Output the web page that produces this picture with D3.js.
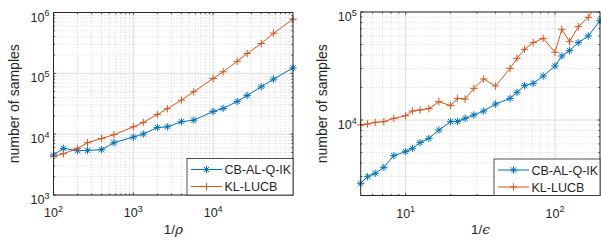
<!DOCTYPE html>
<html><head><meta charset="utf-8">
<script src="https://cdn.jsdelivr.net/npm/d3@7"></script>
<style>
body{margin:0;background:#fff}
text{font-family:"Liberation Sans",Arial,Helvetica,sans-serif;fill:#262626}
</style>
</head><body>
<svg id="c" width="601" height="243"></svg>
<script>
// ---------- data ----------
const seriesNames = ["CB-AL-Q-IK", "KL-LUCB"];
const seriesColors = ["#0072BD", "#D95319"];

// left panel: 1/rho
const rhoInv = [100, 133, 200, 267, 400, 571, 1000, 1333, 2000, 2667, 4000, 5714, 10000, 13333, 20000, 26667, 40000, 57143, 100000];
const rhoCB  = [4540, 5840, 5350, 5410, 5550, 7230, 8960, 10050, 12900, 13200, 16000, 17000, 23600, 26500, 34500, 43300, 60100, 80300, 123000];
const rhoKL  = [4310, 4770, 5840, 7230, 8520, 9790, 13200, 15600, 21100, 26200, 36300, 49700, 82400, 106000, 158000, 212000, 309000, 457000, 776000];
const rhoXTicks = [1e2, 1e3, 1e4];
const rhoYTicks = [1e3, 1e4, 1e5, 1e6];

// right panel: 1/epsilon
const epsInv = [5, 5.56, 6.25, 7.14, 8.33, 10, 11.1, 12.5, 14.3, 16.7, 20, 22.2, 25, 28.6, 33.3, 40, 50, 55.6, 62.5, 71.4, 83.3, 100, 111, 125, 143, 167, 200];
const epsCB  = [2594, 2987, 3206, 3645, 4677, 5094, 5470, 6170, 6765, 8078, 9650, 9700, 10360, 11130, 12110, 14060, 15860, 18030, 20790, 21860, 25550, 31620, 39150, 43870, 52030, 59970, 83140];
const epsKL  = [8990, 9190, 9510, 9650, 10360, 10960, 12110, 12380, 12740, 14790, 13580, 15860, 15630, 19630, 23970, 20650, 30070, 37220, 45080, 52030, 57060, 42370, 69150, 53090, 73080, 89300, 130000];
const epsXTicks = [1e1, 1e2];
const epsYTicks = [1e4, 1e5];

// ---------- drawing ----------
const svg = d3.select("#c");
const AX = "#262626";

function minorVals(dom){
  const out = [];
  const k0 = Math.floor(Math.log10(dom[0])), k1 = Math.ceil(Math.log10(dom[1]));
  for (let k = k0; k <= k1; k++) for (let m = 1; m <= 9; m++) {
    const v = m * Math.pow(10, k);
    if (m > 1 && v > dom[0] * 1.0001 && v < dom[1] * 0.9999) out.push(v);
  }
  return out;
}

function asterisk(g, cx, cy, r, color){
  const d = r * 0.7071;
  const p = `M${cx-r},${cy}L${cx+r},${cy}M${cx},${cy-r}L${cx},${cy+r}` +
            `M${cx-d},${cy-d}L${cx+d},${cy+d}M${cx-d},${cy+d}L${cx+d},${cy-d}`;
  g.append("path").attr("d", p).attr("stroke", color).attr("stroke-width", 1).attr("fill", "none");
}
function plus(g, cx, cy, r, color){
  const p = `M${cx-r},${cy}L${cx+r},${cy}M${cx},${cy-r}L${cx},${cy+r}`;
  g.append("path").attr("d", p).attr("stroke", color).attr("stroke-width", 1).attr("fill", "none");
}
const markers = [asterisk, plus];

function expLabel(g, x, y, v, anchor){
  const e = Math.round(Math.log10(v));
  const t = g.append("text").attr("x", x).attr("y", y).attr("text-anchor", anchor).style("font-size", "12.5px");
  t.append("tspan").text("10");
  t.append("tspan").text(e).attr("dy", -5.5).style("font-size", "9px");
}

function panel(o){
  const x = d3.scaleLog().domain(o.xDom).range([o.x0, o.x1]);
  const y = d3.scaleLog().domain(o.yDom).range([o.y0, o.y1]);
  const g = svg.append("g");
  const id = "clip" + o.id;
  svg.append("clipPath").attr("id", id).append("rect")
    .attr("x", o.x0).attr("y", o.y1).attr("width", o.x1 - o.x0).attr("height", o.y0 - o.y1);

  g.append("rect").attr("x", o.x0).attr("y", o.y1).attr("width", o.x1 - o.x0).attr("height", o.y0 - o.y1).attr("fill", "#fff");

  // minor grid
  const mx = minorVals(o.xDom), my = minorVals(o.yDom);
  g.selectAll(null).data(mx).join("line")
    .attr("x1", d => x(d)).attr("x2", d => x(d)).attr("y1", o.y0).attr("y2", o.y1)
    .attr("stroke", "#bdbdbd").attr("stroke-width", 0.6).attr("stroke-dasharray", "1,2");
  g.selectAll(null).data(my).join("line")
    .attr("y1", d => y(d)).attr("y2", d => y(d)).attr("x1", o.x0).attr("x2", o.x1)
    .attr("stroke", "#bdbdbd").attr("stroke-width", 0.6).attr("stroke-dasharray", "1,2");
  // major grid
  g.selectAll(null).data(o.xTicks).join("line")
    .attr("x1", d => x(d)).attr("x2", d => x(d)).attr("y1", o.y0).attr("y2", o.y1)
    .attr("stroke", "#dcdcdc").attr("stroke-width", 1);
  g.selectAll(null).data(o.yTicks).join("line")
    .attr("y1", d => y(d)).attr("y2", d => y(d)).attr("x1", o.x0).attr("x2", o.x1)
    .attr("stroke", "#dcdcdc").attr("stroke-width", 1);

  // series
  o.series.forEach((s, i) => {
    const line = d3.line().x((d, j) => x(o.xs[j])).y(d => y(d));
    g.append("path").attr("d", line(s)).attr("fill", "none")
      .attr("stroke", seriesColors[i]).attr("stroke-width", 1).attr("clip-path", `url(#${id})`);
    const mg = g.append("g");
    s.forEach((v, j) => {
      if (v >= o.yDom[0] && v <= o.yDom[1]) markers[i](mg, x(o.xs[j]), y(v), 3.7, seriesColors[i]);
    });
  });

  // ticks (inward, all four sides)
  const tl = 2.6, tm = 1.6;
  const tk = g.append("g").attr("stroke", AX).attr("stroke-width", 0.8);
  o.xTicks.forEach(v => {
    tk.append("line").attr("x1", x(v)).attr("x2", x(v)).attr("y1", o.y0).attr("y2", o.y0 - tl);
    tk.append("line").attr("x1", x(v)).attr("x2", x(v)).attr("y1", o.y1).attr("y2", o.y1 + tl);
  });
  mx.forEach(v => {
    tk.append("line").attr("x1", x(v)).attr("x2", x(v)).attr("y1", o.y0).attr("y2", o.y0 - tm);
    tk.append("line").attr("x1", x(v)).attr("x2", x(v)).attr("y1", o.y1).attr("y2", o.y1 + tm);
  });
  o.yTicks.forEach(v => {
    tk.append("line").attr("y1", y(v)).attr("y2", y(v)).attr("x1", o.x0).attr("x2", o.x0 + tl);
    tk.append("line").attr("y1", y(v)).attr("y2", y(v)).attr("x1", o.x1).attr("x2", o.x1 - tl);
  });
  my.forEach(v => {
    tk.append("line").attr("y1", y(v)).attr("y2", y(v)).attr("x1", o.x0).attr("x2", o.x0 + tm);
    tk.append("line").attr("y1", y(v)).attr("y2", y(v)).attr("x1", o.x1).attr("x2", o.x1 - tm);
  });

  // box
  g.append("rect").attr("x", o.x0).attr("y", o.y1).attr("width", o.x1 - o.x0).attr("height", o.y0 - o.y1)
    .attr("fill", "none").attr("stroke", AX).attr("stroke-width", 1);

  // tick labels
  o.xTicks.forEach(v => expLabel(g, x(v), o.y0 + 22, v, "middle"));
  o.yTicks.forEach(v => expLabel(g, o.x0 - 4, y(v) + 9, v, "end"));

  // axis labels
  const xl = g.append("text").attr("x", (o.x0 + o.x1) / 2).attr("y", 234).attr("text-anchor", "middle").style("font-size", "13.5px");
  xl.append("tspan").text("1/");
  xl.append("tspan").text(o.xSym).style("font-family", "'DejaVu Serif','Liberation Serif',serif").style("font-style", "italic");
  g.append("text").attr("transform", `translate(${o.yLabX},${(o.y0 + o.y1) / 2}) rotate(-90)`)
    .attr("text-anchor", "middle").attr("dy", "0.35em").style("font-size", "14px").text("number of samples");

  // legend
  const lw = 106, lh = 36.5;
  const lx = o.x1 - lw, ly = o.y0 - lh;
  const lg = g.append("g");
  lg.append("rect").attr("x", lx).attr("y", ly).attr("width", lw).attr("height", lh)
    .attr("fill", "#fff").attr("stroke", AX).attr("stroke-width", 0.8);
  seriesNames.forEach((n, i) => {
    const yy = ly + 11 + i * 17;
    lg.append("line").attr("x1", lx + 4).attr("x2", lx + 35).attr("y1", yy).attr("y2", yy)
      .attr("stroke", seriesColors[i]).attr("stroke-width", 1);
    markers[i](lg, lx + 19.5, yy, 3.7, seriesColors[i]);
    lg.append("text").attr("x", lx + 37.5).attr("y", yy).attr("dy", "0.36em").style("font-size", "12.5px").text(n);
  });
}

panel({id: "L", xDom: [1e2, 1e5], yDom: [1e3, 1e6], x0: 53.5, x1: 293, y0: 195, y1: 12.5,
       xs: rhoInv, series: [rhoCB, rhoKL], xTicks: rhoXTicks, yTicks: rhoYTicks, xSym: "ρ", yLabX: 14});
panel({id: "R", xDom: [5, 200], yDom: [2000, 1e5], x0: 360.7, x1: 600, y0: 195.5, y1: 12,
       xs: epsInv, series: [epsCB, epsKL], xTicks: epsXTicks, yTicks: epsYTicks, xSym: "ϵ", yLabX: 322});
</script>
</body></html>
